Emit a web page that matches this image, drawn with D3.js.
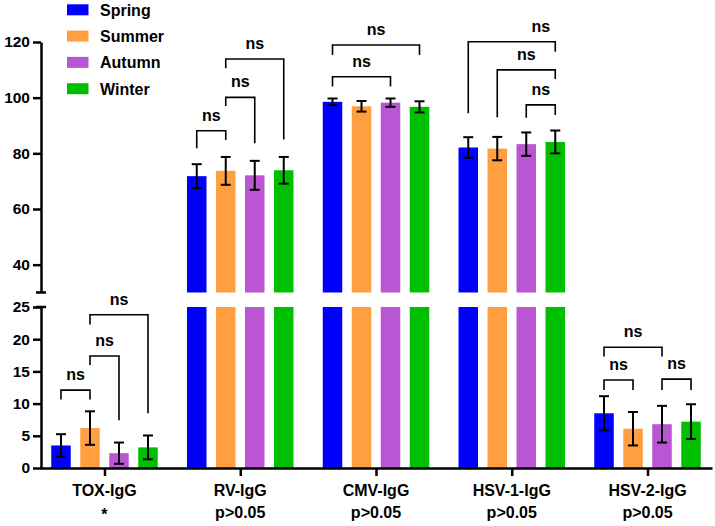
<!DOCTYPE html>
<html>
<head>
<meta charset="utf-8">
<script src="https://cdn.jsdelivr.net/npm/d3@7/dist/d3.min.js"></script>
<style>
  body { margin: 0; background: #fff; }
  svg { display: block; font-family: "Liberation Sans", Arial, sans-serif; font-weight: bold; }
</style>
</head>
<body>
<svg id="chart" width="715" height="526"></svg>
<script>
(function() {
	"use strict";

	// categories and sub labels
	var categories = ["TOX-IgG", "RV-IgG", "CMV-IgG", "HSV-1-IgG", "HSV-2-IgG"];
	var subLabels = ["*", "p>0.05", "p>0.05", "p>0.05", "p>0.05"];
	var seasons = ["Spring", "Summer", "Autumn", "Winter"];
	var colors = ["#0000ff", "#ff9f40", "#ba55d3", "#00bf00"];

	// means per season, in category order
	var spring = [3.5, 71.8, 98.5, 82.1, 8.5];
	var summer = [6.2, 73.7, 96.9, 81.7, 6.1];
	var autumn = [2.3, 72.1, 98.2, 83.3, 6.8];
	var winter = [3.2, 73.9, 96.7, 84.1, 7.2];
	// error (sd) per season
	var springErr = [1.75, 4.3, 1.2, 3.7, 2.65];
	var summerErr = [2.6, 5.0, 1.9, 4.2, 2.6];
	var autumnErr = [1.65, 5.2, 1.5, 4.2, 2.85];
	var winterErr = [1.85, 4.8, 2.0, 4.1, 2.7];

	var means = [spring, summer, autumn, winter];
	var errs = [springErr, summerErr, autumnErr, winterErr];

	// axis ticks
	var topTicks = [40, 60, 80, 100, 120];
	var bottomTicks = [0, 5, 10, 15, 20, 25];

	// significance brackets: category, from bar, to bar, line value, left leg end, right leg end
	var brackets = [
		{c: 0, a: 0, b: 1, y: 12.1, la: 10.65, lb: 10.65},
		{c: 0, a: 1, b: 2, y: 17.4, la: 16.0, lb: 7.4},
		{c: 0, a: 1, b: 3, y: 23.8, la: 22.3, lb: 8.5},
		{c: 1, a: 0, b: 1, y: 88.1, la: 81.8, lb: 84.8},
		{c: 1, a: 1, b: 2, y: 100.1, la: 97.0, lb: 83.6},
		{c: 1, a: 1, b: 3, y: 113.9, la: 110.6, lb: 85.0},
		{c: 2, a: 0, b: 2, y: 107.5, la: 104.0, lb: 104.0},
		{c: 2, a: 0, b: 3, y: 118.9, la: 115.3, lb: 115.3},
		{c: 3, a: 2, b: 3, y: 97.4, la: 92.8, lb: 93.8},
		{c: 3, a: 1, b: 3, y: 110.0, la: 93.0, lb: 106.7},
		{c: 3, a: 0, b: 3, y: 120.1, la: 94.4, lb: 116.5, lx: 2.5},
		{c: 4, a: 0, b: 1, y: 13.66, la: 12.1, lb: 12.1},
		{c: 4, a: 2, b: 3, y: 13.8, la: 12.1, lb: 12.1},
		{c: 4, a: 0, b: 2, y: 18.75, la: 17.3, lb: 17.3}
	];

	var svg = d3.select("#chart");

	// scales
	var yTop = d3.scaleLinear().domain([30, 120]).range([292.5, 42]);
	var yBot = d3.scaleLinear().domain([0, 25]).range([468, 307]);
	function yVal(v) { return v > 27.5 ? yTop(v) : yBot(v); }

	var x = d3.scalePoint().domain(categories).range([40, 712]).padding(0.475);
	var xIn = d3.scalePoint().domain(d3.range(4)).range([-43.5, 43.5]);
	var xInLin = d3.scaleLinear().domain([0, 3]).range([-43.5, 43.5]);
	var barW = 19.5;
	function barX(c, s) { return x(categories[c]) + xIn(s); }

	// bars
	var g = svg.append("g");
	seasons.forEach(function(name, s) {
		means[s].forEach(function(v, c) {
			var cx = barX(c, s);
			var low = Math.min(v, 25);
			g.append("rect")
				.attr("x", cx - barW / 2).attr("width", barW)
				.attr("y", yBot(low)).attr("height", yBot(0) - yBot(low))
				.attr("fill", colors[s]);
			if (v > 30) {
				g.append("rect")
					.attr("x", cx - barW / 2).attr("width", barW)
					.attr("y", yTop(v)).attr("height", yTop(30) - yTop(v))
					.attr("fill", colors[s]);
			}
		});
	});

	// error bars
	var eg = svg.append("g").attr("stroke", "#000").attr("stroke-width", 2);
	seasons.forEach(function(name, s) {
		means[s].forEach(function(v, c) {
			var cx = barX(c, s), e = errs[s][c];
			var y1 = yVal(v - e), y2 = yVal(v + e);
			eg.append("line").attr("x1", cx).attr("x2", cx).attr("y1", y1).attr("y2", y2);
			eg.append("line").attr("x1", cx - 5).attr("x2", cx + 5).attr("y1", y1).attr("y2", y1);
			eg.append("line").attr("x1", cx - 5).attr("x2", cx + 5).attr("y1", y2).attr("y2", y2);
		});
	});

	// brackets
	var bg = svg.append("g");
	brackets.forEach(function(b) {
		var xa = barX(b.c, b.a), xb = barX(b.c, b.b);
		var yy = yVal(b.y);
		bg.append("path")
			.attr("d", "M" + xa + "," + yVal(b.la) + "V" + yy + "H" + xb + "V" + yVal(b.lb))
			.attr("fill", "none").attr("stroke", "#000").attr("stroke-width", 1.6);
		var lx = b.lx != null ? x(categories[b.c]) + xInLin(b.lx) : (xa + xb) / 2;
		bg.append("text")
			.attr("x", lx).attr("y", yy - 10)
			.attr("text-anchor", "middle")
			.attr("font-size", 16)
			.text("ns");
	});

	// y axes
	var axTop = svg.append("g").attr("transform", "translate(41,0)")
		.call(d3.axisLeft(yTop).tickValues(topTicks).tickSize(8).tickSizeOuter(0).tickPadding(3));
	var axBot = svg.append("g").attr("transform", "translate(41,0)")
		.call(d3.axisLeft(yBot).tickValues(bottomTicks).tickSize(8).tickSizeOuter(0).tickPadding(3));
	[axTop, axBot].forEach(function(ax) {
		ax.selectAll("path, line").attr("stroke", "#000").attr("stroke-width", 2.5);
		ax.selectAll("text").attr("font-size", 15.5).attr("font-weight", "bold")
			.attr("font-family", "Liberation Sans, Arial, sans-serif").attr("fill", "#000");
	});
	// break caps
	svg.append("line").attr("x1", 36).attr("x2", 46).attr("y1", yTop(30)).attr("y2", yTop(30))
		.attr("stroke", "#000").attr("stroke-width", 2.5);
	svg.append("line").attr("x1", 36).attr("x2", 46).attr("y1", yBot(25)).attr("y2", yBot(25))
		.attr("stroke", "#000").attr("stroke-width", 2.5);

	// x axis
	var axX = svg.append("g").attr("transform", "translate(0," + yBot(0) + ")")
		.call(d3.axisBottom(x).tickSize(8).tickSizeOuter(0).tickFormat(""));
	axX.selectAll("path, line").attr("stroke", "#000").attr("stroke-width", 2.5);

	var lab = svg.append("g").attr("font-size", 16).attr("text-anchor", "middle");
	categories.forEach(function(c, i) {
		lab.append("text").attr("x", x(c)).attr("y", 496).text(c);
		lab.append("text").attr("x", x(c)).attr("y", i === 0 ? 520 : 518).text(subLabels[i]);
	});

	// legend
	var leg = svg.append("g").attr("font-size", 16);
	seasons.forEach(function(name, s) {
		var cy = 9.8 + s * 26.3;
		leg.append("rect").attr("x", 67).attr("y", cy - 5.5).attr("width", 21.5).attr("height", 11)
			.attr("fill", colors[s]);
		leg.append("text").attr("x", 100).attr("y", cy + 6).text(name);
	});

}());
</script>
</body>
</html>
